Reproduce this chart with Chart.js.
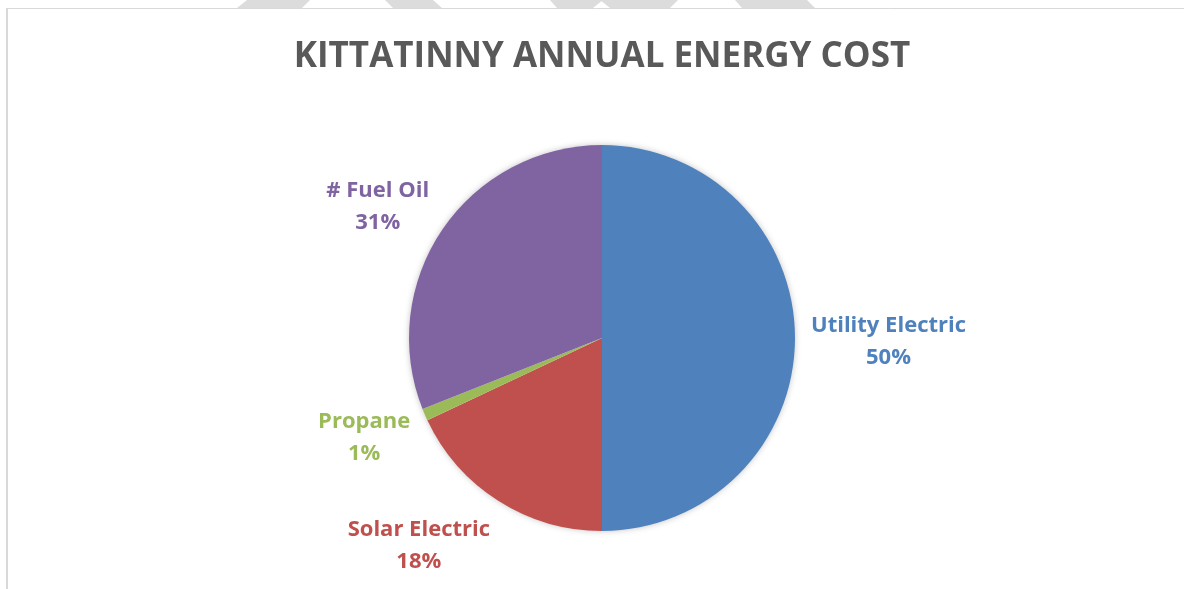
<!DOCTYPE html>
<html>
  <head>
    <script src="https://cdn.jsdelivr.net/npm/chart.js@4/dist/chart.umd.min.js"></script>
    <style>
      html, body { margin: 0; padding: 0; background: #fff; }
      #wrap { width: 1184px; height: 589px; }
    </style>
  </head>

  <body>
    <div id="wrap">
      <canvas id="canvas"></canvas>
    </div>
    <script>
      const chartTitle = 'KITTATINNY ANNUAL ENERGY COST';
      const categories = ['Utility Electric', 'Solar Electric', 'Propane', '# Fuel Oil'];
      const costShare = [50, 18, 1, 31];
      const sliceColors = ['#4F81BD', '#C0504D', '#9BBB59', '#8064A2'];

      const FONT = '"Open Sans", "Liberation Sans", sans-serif';

      // page frame and the grey bands along the top edge
      const framePlugin = {
        id: 'frame',
        beforeDraw(chart) {
          const ctx = chart.ctx;
          ctx.save();
          ctx.fillStyle = '#dcdcdc';
          const bands = [
            [[247, 310], [237, 302]],
            [[385, 433], [393, 442]],
            [[550, 603], [557, 593]],
            [[600, 678], [610, 670]],
            [[735, 807], [742, 815]],
          ];
          bands.forEach(([top, bot]) => {
            ctx.beginPath();
            ctx.moveTo(top[0], 0);
            ctx.lineTo(top[1], 0);
            ctx.lineTo(bot[1], 8);
            ctx.lineTo(bot[0], 8);
            ctx.closePath();
            ctx.fill();
          });
          ctx.strokeStyle = '#d9d9d9';
          ctx.lineWidth = 1;
          ctx.beginPath();
          ctx.moveTo(7, 8.5);
          ctx.lineTo(chart.width, 8.5);
          ctx.stroke();
          ctx.lineWidth = 2;
          ctx.beginPath();
          ctx.moveTo(7, 8);
          ctx.lineTo(7, chart.height);
          ctx.stroke();
          ctx.restore();
        },
      };

      // soft shadow under the pie
      const shadowPlugin = {
        id: 'pieShadow',
        beforeDatasetsDraw(chart) {
          const arc = chart.getDatasetMeta(0).data[0];
          if (!arc) return;
          const { x, y, outerRadius } = arc.getProps(['x', 'y', 'outerRadius'], true);
          const ctx = chart.ctx;
          ctx.save();
          ctx.shadowColor = 'rgba(0,0,0,0.3)';
          ctx.shadowBlur = 7;
          ctx.fillStyle = '#fff';
          ctx.beginPath();
          ctx.arc(x, y, outerRadius - 1, 0, Math.PI * 2);
          ctx.fill();
          ctx.restore();
        },
      };

      // category name + percent outside each slice
      const outsideLabels = {
        id: 'outsideLabels',
        afterDatasetsDraw(chart) {
          const ctx = chart.ctx;
          const meta = chart.getDatasetMeta(0);
          const values = chart.data.datasets[0].data;
          const total = values.reduce((a, b) => a + b, 0);
          const lineH = 32;
          ctx.save();
          ctx.font = 'bold 22px ' + FONT;
          ctx.textAlign = 'center';
          ctx.textBaseline = 'middle';
          meta.data.forEach((arc, i) => {
            const p = arc.getProps(['x', 'y', 'startAngle', 'endAngle', 'outerRadius'], true);
            const mid = (p.startAngle + p.endAngle) / 2;
            const dx = Math.cos(mid);
            const dy = Math.sin(mid);
            const ex = p.x + dx * (p.outerRadius + 16);
            const ey = p.y + dy * (p.outerRadius + 16);
            const lines = [chart.data.labels[i], Math.round((values[i] / total) * 100) + '%'];
            const w = Math.max(...lines.map((t) => ctx.measureText(t).width));
            const cx = dx >= 0 ? ex + w / 2 : ex - w / 2;
            const cy = ey + dy * lineH + 4;
            ctx.fillStyle = sliceColors[i];
            ctx.fillText(lines[0], cx, cy - lineH / 2);
            ctx.fillText(lines[1], cx, cy + lineH / 2);
          });
          ctx.restore();
        },
      };

      new Chart(document.getElementById('canvas'), {
        type: 'pie',
        data: {
          labels: categories,
          datasets: [
            {
              data: costShare,
              backgroundColor: sliceColors,
              borderWidth: 0,
            },
          ],
        },
        options: {
          responsive: true,
          maintainAspectRatio: false,
          animation: false,
          layout: {
            padding: { left: 20, right: 0, top: 0, bottom: 58 },
          },
          plugins: {
            legend: { display: false },
            tooltip: { enabled: false },
            title: {
              display: true,
              text: chartTitle,
              color: '#595959',
              font: { family: FONT, size: 35, weight: 'bold', lineHeight: 1.2 },
              padding: { top: 36, bottom: 67 },
            },
          },
        },
        plugins: [framePlugin, shadowPlugin, outsideLabels],
      });
    </script>
  </body>
</html>
